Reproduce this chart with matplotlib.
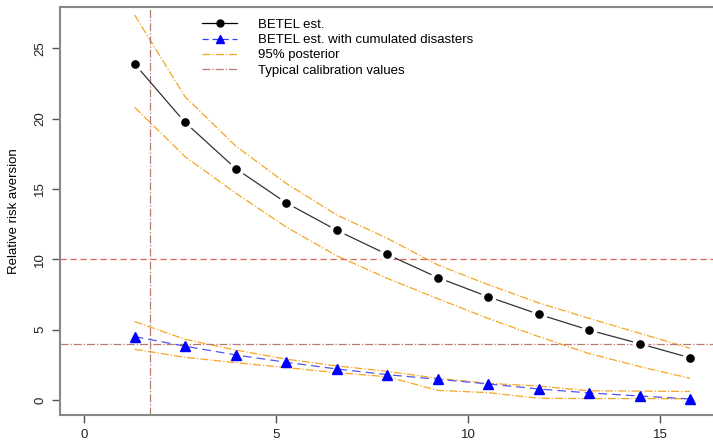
import matplotlib
matplotlib.use("Agg")
import matplotlib.pyplot as plt
from matplotlib.lines import Line2D

plt.rcParams['font.family'] = ['Liberation Sans', 'DejaVu Sans']

# data
x = [1.32, 2.63, 3.95, 5.26, 6.58, 7.89, 9.21, 10.52, 11.84, 13.15, 14.47, 15.78]
betel = [23.88, 19.73, 16.45, 14.02, 12.06, 10.35, 8.7, 7.34, 6.09, 4.97, 4.0, 3.0]
betel_up = [27.36, 21.56, 18.05, 15.4, 13.15, 11.5, 9.6, 8.2, 6.9, 5.8, 4.74, 3.67]
betel_lo = [20.8, 17.3, 14.7, 12.3, 10.25, 8.65, 7.2, 5.8, 4.5, 3.3, 2.37, 1.54]

cum = [4.5, 3.82, 3.2, 2.68, 2.2, 1.8, 1.47, 1.14, 0.78, 0.5, 0.28, 0.07]
cum_up = [5.57, 4.31, 3.55, 2.9, 2.42, 2.03, 1.54, 1.18, 0.99, 0.65, 0.63, 0.6]
cum_lo = [3.6, 3.03, 2.65, 2.3, 1.94, 1.65, 0.68, 0.52, 0.12, 0.1, 0.1, 0.08]

calib_h = [10, 4]
calib_v = 1.71

orange = '#F6A623'
calib = '#B87A74'

fig = plt.figure(figsize=(7.13, 4.41), dpi=100)
ax = fig.add_axes([60/713, 26/441, 1 - 60/713, 408/441])

ax.plot(x, betel_up, color=orange, lw=0.9, ls='-.')
ax.plot(x, betel_lo, color=orange, lw=0.9, ls='-.')
ax.plot(x, cum_up, color=orange, lw=0.9, ls='-.')
ax.plot(x, cum_lo, color=orange, lw=0.9, ls='-.')

ax.axhline(calib_h[0], color='#DD6655', lw=0.9, ls=(0, (5, 3)))
ax.axhline(calib_h[1], color=calib, lw=0.9, ls='-.')
ax.axvline(calib_v, color=calib, lw=0.9, ls='-.')

ax.plot(x, betel, color='#333333', lw=0.9, zorder=3)
ax.plot(x, betel, ls='none', marker='o', ms=8, mfc='black', mec='white',
        mew=3.5, zorder=4)
ax.plot(x, betel, ls='none', marker='o', ms=5.2, color='black', zorder=5)

ax.plot(x, cum, color='#5555EE', lw=0.9, ls=(0, (7, 4)), zorder=3)
ax.plot(x, cum, ls='none', marker='^', ms=6.5, color='#0000FF', zorder=5)

ax.set_xlim(-0.625, 16.38)
ax.set_ylim(-1.07, 27.93)
ax.set_xticks([0, 5, 10, 15])
ax.set_yticks([0, 5, 10, 15, 20, 25])
ax.tick_params(axis='both', length=6, width=1, color='#555555', labelsize=9.5,
               labelcolor='#222222')
ax.tick_params(axis='x', pad=4)
ax.tick_params(axis='y', pad=4)
for t in ax.get_yticklabels():
    t.set_rotation(90)
    t.set_va('center')
ax.spines['right'].set_visible(False)
for s in ['left', 'top', 'bottom']:
    ax.spines[s].set_color('#888888')
    ax.spines[s].set_linewidth(1.5)

ax.set_ylabel('Relative risk aversion', fontsize=9.5, labelpad=10)

handles = [
    Line2D([], [], color='black', lw=0.9, marker='o', ms=5),
    Line2D([], [], color='#3344EE', lw=0.9, ls=(0, (5, 3)), marker='^', ms=6,
           mfc='#0000FF', mec='#0000FF'),
    Line2D([], [], color=orange, lw=0.9, ls='-.'),
    Line2D([], [], color=calib, lw=0.9, ls='-.'),
]
labels = ['BETEL est.', 'BETEL est. with cumulated disasters',
          '95% posterior', 'Typical calibration values']
ax.legend(handles, labels, loc='upper left', bbox_to_anchor=(0.2, 1.0),
          frameon=False, fontsize=9.5, handlelength=2.6, handletextpad=1.6,
          labelspacing=0.22)

fig.savefig('out.png', dpi=100)
